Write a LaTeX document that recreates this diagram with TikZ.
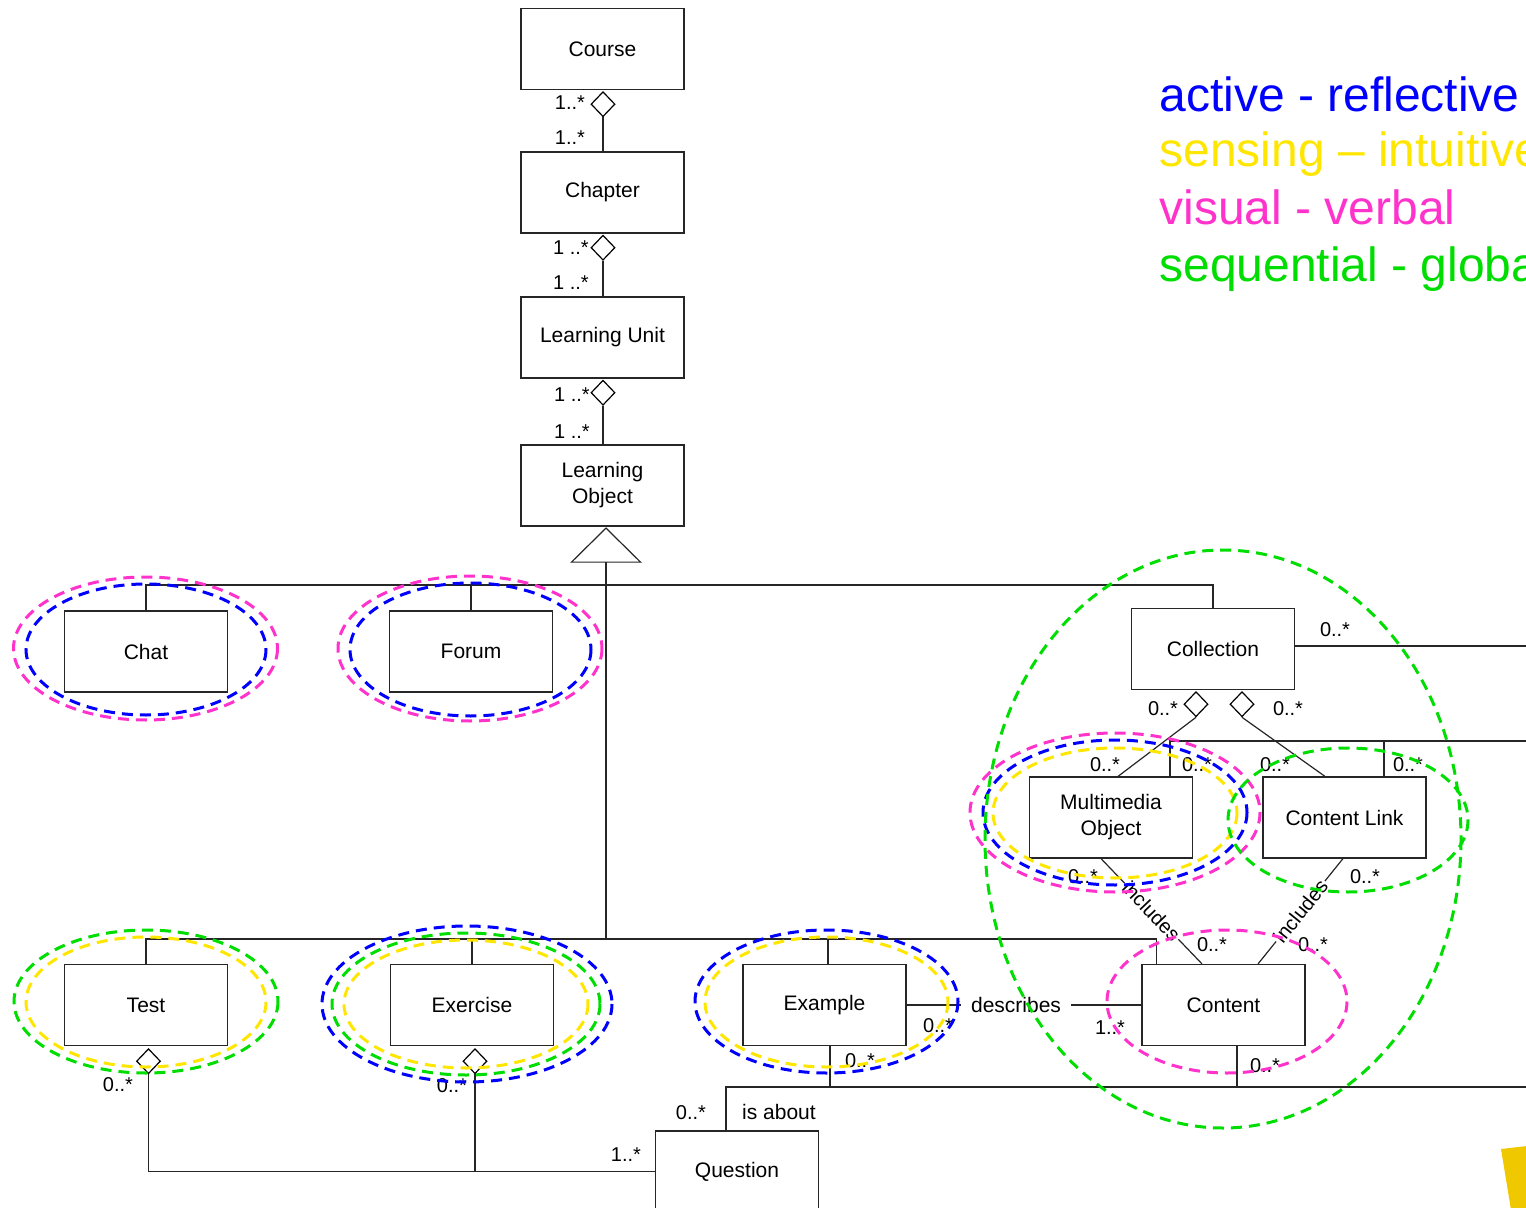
\documentclass[tikz,border=0pt]{standalone}
\usepackage{fontspec}
\setmainfont{Liberation Sans}
\usetikzlibrary{shapes.geometric,calc}
\definecolor{lsblue}{RGB}{0,0,255}
\definecolor{lsyellow}{RGB}{255,230,0}
\definecolor{lspink}{RGB}{255,51,204}
\definecolor{lsgreen}{RGB}{0,221,0}
\definecolor{logoyellow}{RGB}{240,200,0}
\begin{document}
\begin{tikzpicture}[x=0.5pt,y=-0.5pt,
  cls/.style={draw=black!85, line width=0.6pt, minimum width=81.5pt, minimum height=40.5pt, inner sep=0pt, align=center, font=\fontsize{10.5}{13}\selectfont},
  conn/.style={draw=black!85, line width=0.6pt},
  agg/.style={diamond, draw=black, line width=0.6pt, fill=white, minimum width=12pt, minimum height=12.5pt, inner sep=0pt},
  mult/.style={font=\fontsize{10}{12}\selectfont, inner sep=0pt},
  rolelabel/.style={font=\fontsize{10}{12}\selectfont, fill=white, inner sep=1pt, sloped},
  lsdash/.style={line width=1.5pt, dash pattern=on 5.5pt off 3.5pt},
  legend/.style={anchor=base west, inner sep=0pt, font=\fontsize{24}{28}\selectfont}
]
\useasboundingbox (0,0) rectangle (1526,1208);
\clip (0,0) rectangle (1526,1208);

% ---------- classes ----------
\node[cls] (course) at (602.5,49) {Course};
\node[cls] (chapter) at (602.5,192.5) {Chapter};
\node[cls] (lu) at (602.5,337.5) {Learning Unit};
\node[cls] (lo) at (602.5,485.5) {Learning\\Object};
\node[cls] (chat) at (146,651.5) {Chat};
\node[cls] (forum) at (471,651.5) {Forum};
\node[cls] (collection) at (1213,649) {Collection};
\node[cls] (mo) at (1111,817.5) {Multimedia\\Object};
\node[cls] (cl) at (1344.5,817.5) {Content Link};
\node[cls] (test) at (146,1005) {Test};
\node[cls] (exercise) at (472,1005) {Exercise};
\node[cls] (example) at (824.5,1005) {Example};
\node[cls] (content) at (1223.5,1005) {Content};
\node[cls] (question) at (737,1171.5) {Question};

% ---------- hierarchy aggregations ----------
\node[agg, anchor=north] (d1) at ($(course.south)+(0.5,1)$) {};
\draw[conn] (d1.south) -- (d1.south |- chapter.north);
\node[agg, anchor=north] (d2) at ($(chapter.south)+(0.5,1)$) {};
\draw[conn] (d2.south) -- (d2.south |- lu.north);
\node[agg, anchor=north] (d3) at ($(lu.south)+(0.5,1)$) {};
\draw[conn] (d3.south) -- (d3.south |- lo.north);
\node[mult] at (570,103) {1..*};
\node[mult] at (570,138) {1..*};
\node[mult] at (571,248) {1 ..*};
\node[mult] at (571,283) {1 ..*};
\node[mult] at (572,395) {1 ..*};
\node[mult] at (572,432) {1 ..*};

% ---------- generalization ----------
\coordinate (genApex) at ($(lo.south)+(3.5,1.5)$);
\draw[conn] (genApex) -- ++(34.5,34) -- ++(-69,0) -- cycle;
\coordinate (genBase) at ($(genApex)+(0,34)$);
\coordinate (busTop) at (606,585);
\coordinate (busBot) at (606,939);
\draw[conn] (genBase) -- (busBot);
\draw[conn] (chat.north) -- (chat.north |- busTop) -- (collection.north |- busTop) -- (collection.north);
\draw[conn] (forum.north) -- (forum.north |- busTop);
\coordinate (contentTop) at ($(content.north west)+(15,0)$);
\coordinate (exTop) at ($(example.north)+(3.5,0)$);
\draw[conn] (test.north) -- (test.north |- busBot) -- (contentTop |- busBot) -- (contentTop);
\draw[conn] (exercise.north) -- (exercise.north |- busBot);
\draw[conn] (exTop) -- (exTop |- busBot);

% ---------- collection ----------
\coordinate (edgeR1) at (1530,646);
\draw[conn] (collection.east |- edgeR1) -- (edgeR1);
\node[mult] at (1335,630) {0..*};
\node[agg, anchor=north] (ca1) at ($(collection.south)+(-17,1)$) {};
\node[agg, anchor=north] (ca2) at ($(collection.south)+(29,1)$) {};
\draw[conn] (ca1.south) -- ($(mo.north)+(7,0)$);
\draw[conn] (ca2.south) -- ($(cl.north)+(-19.5,0)$);
\node[mult] at (1163,709) {0..*};
\node[mult] at (1288,709) {0..*};

\coordinate (edgeR2) at (1530,741);
\coordinate (moTopR) at ($(mo.north)+(59,0)$);
\coordinate (clTopR) at ($(cl.north)+(39.5,0)$);
\draw[conn] (moTopR) -- (moTopR |- edgeR2) -- (edgeR2);
\draw[conn] (clTopR) -- (clTopR |- edgeR2);
\node[mult] at (1105,765) {0..*};
\node[mult] at (1197,765) {0..*};
\node[mult] at (1275,765) {0..*};
\node[mult] at (1408,765) {0..*};

% ---------- includes ----------
\draw[conn] ($(mo.south)+(-10,0)$) -- node[rolelabel] {includes} ($(content.north)+(-21.5,0)$);
\draw[conn] ($(cl.south)+(-1.5,0)$) -- node[rolelabel] {includes} ($(content.north)+(34.5,0)$);
\node[mult] at (1083,877) {0..*};
\node[mult] at (1365,877) {0..*};
\node[mult] at (1212,945) {0..*};
\node[mult] at (1313,945) {0..*};

% ---------- describes ----------
\draw[conn] (example.east) -- node[pos=0.466, fill=white, inner xsep=5pt, inner ysep=1pt, font=\fontsize{10.5}{12}\selectfont] {describes} (content.west);
\node[mult] at (1110,1028) {1..*};
\node[mult] at (938,1026) {0..*};

% ---------- is about ----------
\coordinate (edgeR3) at (1530,1087);
\coordinate (exBot) at ($(example.south)+(5.5,0)$);
\coordinate (coBot) at ($(content.south)+(13.5,0)$);
\coordinate (quTop) at ($(question.north)+(-11,0)$);
\draw[conn] (quTop) -- (quTop |- edgeR3) -- (edgeR3);
\draw[conn] (exBot) -- (exBot |- edgeR3);
\draw[conn] (coBot) -- (coBot |- edgeR3);
\node[mult] at (860,1061) {0..*};
\node[mult] at (1265,1066) {0..*};
\node[mult] at (691,1113) {0..*};
\node[font=\fontsize{10.5}{12}\selectfont, inner sep=0pt] at (779,1112) {is about};

% ---------- test / exercise to question ----------
\node[agg, anchor=north] (ta) at ($(test.south)+(2.5,2)$) {};
\node[agg, anchor=north] (ea) at ($(exercise.south)+(3,2)$) {};
\draw[conn] (ta.south) -- (ta.south |- question.west) -- (question.west);
\draw[conn] (ea.south) -- (ea.south |- question.west);
\node[mult] at (118,1085) {0..*};
\node[mult] at (452,1086) {0..*};
\node[mult] at (626,1155) {1..*};

% ---------- learning-style ellipses ----------
% Chat
\draw[lsdash, lspink] (145.5,648.5) ellipse [x radius=132, y radius=71.5];
\draw[lsdash, lsblue] (146,649.5) ellipse [x radius=120, y radius=65.5];
% Forum
\draw[lsdash, lspink] (470,648.5) ellipse [x radius=132, y radius=72.5];
\draw[lsdash, lsblue] (470.5,649.5) ellipse [x radius=120.5, y radius=66.5];
% Test
\draw[lsdash, lsgreen] (146,1001.5) ellipse [x radius=132, y radius=71.5];
\draw[lsdash, lsyellow] (146,1002) ellipse [x radius=120, y radius=65];
% Exercise
\draw[lsdash, lsblue] (467,1004) ellipse [x radius=145, y radius=78];
\draw[lsdash, lsgreen] (466,1004) ellipse [x radius=134, y radius=71];
\draw[lsdash, lsyellow] (466,1004) ellipse [x radius=122, y radius=64];
% Example
\draw[lsdash, lsblue] (826.5,1001.5) ellipse [x radius=131.5, y radius=71.5];
\draw[lsdash, lsyellow] (826.5,1002) ellipse [x radius=121.5, y radius=65];
% Multimedia Object
\draw[lsdash, lspink] (1115,812.5) ellipse [x radius=145, y radius=79.5];
\draw[lsdash, lsblue] (1115,812.5) ellipse [x radius=132, y radius=72.5];
\draw[lsdash, lsyellow] (1115,813) ellipse [x radius=122, y radius=65];
% Content Link
\draw[lsdash, lsgreen] (1348,820) ellipse [x radius=120, y radius=72];
% Content
\draw[lsdash, lspink] (1227,1001.5) ellipse [x radius=120, y radius=71.5];
% big green
\draw[lsdash, lsgreen] (1223,839) ellipse [x radius=238, y radius=289];

% ---------- legend ----------
\node[legend, text=lsblue] (lg1) at (1159,112) {active - reflective};
\node[legend, text=lsyellow] (lg2) at (1159,167) {sensing – intuitive};
\node[legend, text=lspink] (lg3) at (1159,225) {visual - verbal};
\node[legend, text=lsgreen] (lg4) at (1159,282) {sequential - global};

% ---------- logo fragment ----------
\fill[logoyellow] (1501,1149) -- (1527,1146) -- (1527,1210) -- (1511,1210) -- cycle;
\end{tikzpicture}
\end{document}
